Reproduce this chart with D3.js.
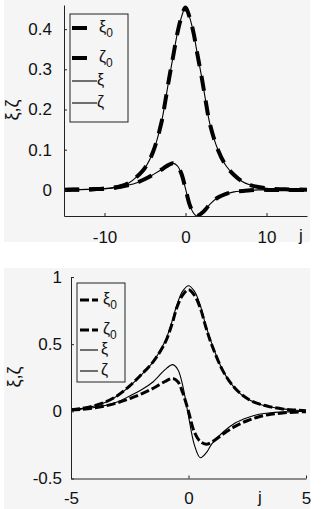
<!DOCTYPE html>
<html><head><meta charset="utf-8">
<script src="https://cdn.jsdelivr.net/npm/d3@7"></script>
<style>
html,body{margin:0;padding:0;background:#fff;}
svg{display:block;}
text{font-family:"Liberation Sans",Arial,sans-serif;fill:#111;}
</style></head>
<body>
<svg id="c" width="325" height="509"></svg>
<script>
// ---------- Top panel data ----------
const jTop = [-15,-13,-12,-11,-10,-9,-8,-7,-6,-5,-4,-3,-2.5,-2,-1.5,-1,-0.5,0,0.5,1,1.4,2,2.5,3,4,5,6,7,8,9,10,11,12,13,15];
const xi0Top = [0.0005,0.001,0.0015,0.002,0.003,0.005,0.009,0.017,0.033,0.055,0.095,0.165,0.22,0.28,0.335,0.39,0.43,0.454,0.43,0.39,0.345,0.28,0.22,0.165,0.1,0.06,0.037,0.021,0.012,0.007,0.004,0.002,0.0015,0.001,0.0005];
const zeta0Top = [0,0.0005,0.001,0.002,0.003,0.005,0.008,0.012,0.018,0.027,0.038,0.05,0.057,0.063,0.066,0.06,0.04,0.003,-0.036,-0.058,-0.065,-0.058,-0.048,-0.036,-0.019,-0.01,-0.005,-0.003,-0.001,0,0,0,0,0,0];
const xiTop = xi0Top.slice();
const zetaTop = zeta0Top.slice();
const xTicksTop = [-10,0,10];
const xTickLabelsTop = ["-10","0","10"];
const yTicksTop = [0,0.1,0.2,0.3,0.4];
const yTickLabelsTop = ["0","0.1","0.2","0.3","0.4"];

// ---------- Bottom panel data ----------
const jBot = [-5,-4.5,-4,-3.5,-3,-2.5,-2,-1.5,-1,-0.7,-0.5,-0.25,0,0.25,0.5,0.75,1,1.5,2,2.5,3,3.5,4,4.5,5];
const xi0Bot = [0.012,0.023,0.042,0.072,0.12,0.19,0.275,0.37,0.51,0.65,0.77,0.865,0.905,0.865,0.77,0.62,0.49,0.29,0.168,0.095,0.055,0.033,0.018,0.01,0.005];
const xiBot  = [0.012,0.022,0.04,0.07,0.118,0.188,0.272,0.37,0.52,0.67,0.79,0.895,0.935,0.895,0.79,0.63,0.5,0.29,0.165,0.093,0.054,0.032,0.018,0.01,0.005];
const jZetaBot = [-5,-4.5,-4,-3.5,-3,-2.5,-2,-1.5,-1,-0.67,-0.45,-0.25,0,0.25,0.5,0.75,1,1.5,2,2.5,3,3.5,4,4.5,5];
const zeta0Bot = [0.01,0.016,0.026,0.042,0.065,0.095,0.13,0.172,0.222,0.245,0.22,0.14,0.0,-0.155,-0.225,-0.245,-0.228,-0.165,-0.11,-0.07,-0.04,-0.022,-0.012,-0.006,-0.003];
const zetaBot  = [0.01,0.017,0.028,0.045,0.072,0.115,0.16,0.22,0.31,0.348,0.31,0.195,-0.035,-0.25,-0.345,-0.31,-0.24,-0.15,-0.085,-0.047,-0.022,-0.01,-0.005,-0.002,0];
const xTicksBot = [-5,0,5];
const xTickLabelsBot = ["-5","0","5"];
const yTicksBot = [-0.5,0,0.5,1];
const yTickLabelsBot = ["-0.5","0","0.5","1"];

const legendNames = [["ξ","0"],["ζ","0"],["ξ",""],["ζ",""]];

const svg = d3.select("#c");
const BG = "#f5f5f5";

function panel(cfg){
  const g = svg.append("g");
  g.append("rect").attr("x",cfg.bg[0]).attr("y",cfg.bg[1]).attr("width",cfg.bg[2]).attr("height",cfg.bg[3]).attr("fill",BG);
  const x = d3.scaleLinear().domain(cfg.xd).range([cfg.L,cfg.R]);
  const y = d3.scaleLinear().domain(cfg.yd).range([cfg.B,cfg.T]);
  const clipId = "clip"+cfg.id;
  svg.append("clipPath").attr("id",clipId).append("rect")
    .attr("x",cfg.L).attr("y",cfg.T-3).attr("width",cfg.R-cfg.L).attr("height",cfg.B-cfg.T+3);
  const line = (js) => d3.line().x((d,i)=>x(js[i])).y(d=>y(d)).curve(d3.curveCatmullRom.alpha(0.5));
  const plot = g.append("g").attr("clip-path",`url(#${clipId})`);
  cfg.series.forEach(s=>{
    plot.append("path").attr("d",line(s.j)(s.v)).attr("fill","none")
      .attr("stroke","#000").attr("stroke-width",s.w).attr("stroke-dasharray",s.dash||null)
      .attr("stroke-linejoin","round");
  });
  // axes
  const xa = d3.axisBottom(x).tickValues(cfg.xt).tickFormat((d,i)=>cfg.xtl[i]).tickSizeInner(-3).tickSizeOuter(0).tickPadding(cfg.xpad);
  const ya = d3.axisLeft(y).tickValues(cfg.yt).tickFormat((d,i)=>cfg.ytl[i]).tickSizeInner(-3).tickSizeOuter(0).tickPadding(cfg.ypad);
  const gx = g.append("g").attr("transform",`translate(0,${cfg.B})`).call(xa);
  const gy = g.append("g").attr("transform",`translate(${cfg.L},0)`).call(ya);
  [gx,gy].forEach(a=>{
    a.select(".domain").attr("stroke","#222").attr("stroke-width",1);
    a.selectAll(".tick line").attr("stroke","#222");
    a.selectAll(".tick text").attr("font-size",17).attr("font-family","Liberation Sans, Arial, sans-serif").attr("fill","#111");
  });
  gx.selectAll(".tick text").attr("dy","0.71em");
  // j label
  g.append("text").attr("x",cfg.jpos[0]).attr("y",cfg.jpos[1]).attr("font-size",17).attr("text-anchor","middle").text("j");
  // y label
  const yl = g.append("text").attr("transform",`translate(${cfg.ylab[0]},${cfg.ylab[1]}) rotate(-90)`)
    .attr("text-anchor","middle").attr("font-size",18).attr("font-family","DejaVu Sans, sans-serif");
  yl.text("ξ,ζ");
  // legend
  const lg = cfg.legend;
  g.append("rect").attr("x",lg.x).attr("y",lg.y).attr("width",lg.w).attr("height",lg.h)
    .attr("fill",BG).attr("stroke","#222").attr("stroke-width",1);
  cfg.series.forEach((s,i)=>{
    const yy = lg.rows[i];
    g.append("line").attr("x1",lg.lx1).attr("x2",lg.lx2).attr("y1",yy).attr("y2",yy)
      .attr("stroke","#000").attr("stroke-width",s.w).attr("stroke-dasharray",s.dash||null);
    const t = g.append("text").attr("x",lg.tx[i]).attr("y",yy+4).attr("font-size",16)
      .attr("font-family","DejaVu Sans, sans-serif");
    t.append("tspan").text(legendNames[i][0]);
    if(legendNames[i][1]) t.append("tspan").attr("dy",5).attr("font-size",12)
      .attr("font-family","Liberation Sans, Arial, sans-serif").text(legendNames[i][1]);
  });
}

panel({id:"t", bg:[4,0,306,242], xd:[-15,15], yd:[-0.065,0.46], L:64, R:307, T:5, B:216,
  xt:xTicksTop, xtl:xTickLabelsTop, yt:yTicksTop, ytl:yTickLabelsTop, xpad:15, ypad:12,
  jpos:[301,241], ylab:[18,110],
  series:[
    {j:jTop, v:xi0Top, w:4, dash:"15,10"},
    {j:jTop, v:zeta0Top, w:4, dash:"15,10"},
    {j:jTop, v:xiTop, w:1.1},
    {j:jTop, v:zetaTop, w:1.1}
  ],
  legend:{x:70,y:14,w:58,h:108, rows:[28,58,81,103], lx1:72, lx2:97, tx:[99,99,97,97]}
});
panel({id:"b", bg:[4,268,306,241], xd:[-5,5], yd:[-0.5,1], L:71, R:306, T:277, B:478.5,
  xt:xTicksBot, xtl:xTickLabelsBot, yt:yTicksBot, ytl:yTickLabelsBot, xpad:13, ypad:9,
  jpos:[260,503], ylab:[20,377],
  series:[
    {j:jBot, v:xi0Bot, w:3, dash:"9,3"},
    {j:jZetaBot, v:zeta0Bot, w:3, dash:"9,3"},
    {j:jBot, v:xiBot, w:1.1},
    {j:jZetaBot, v:zetaBot, w:1.1}
  ],
  legend:{x:77,y:283,w:48,h:99, rows:[300,330,350,371], lx1:80, lx2:98, tx:[103,103,101,101]}
});
</script>
</body></html>
